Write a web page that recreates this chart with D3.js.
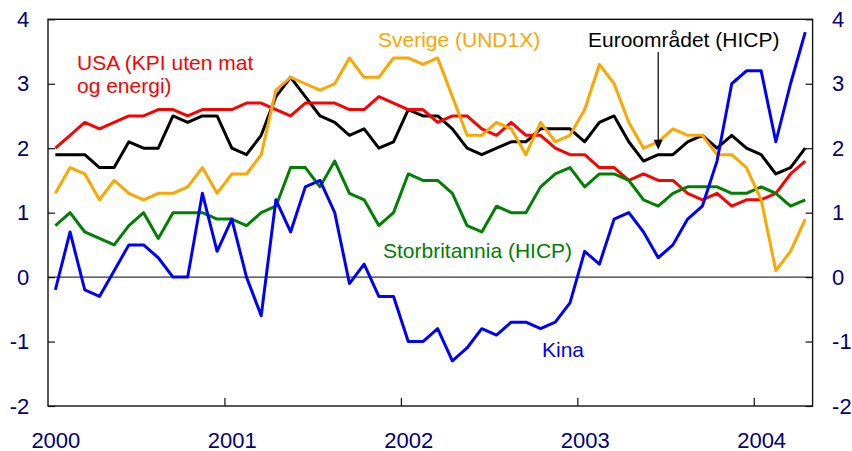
<!DOCTYPE html>
<html>
<head>
<meta charset="utf-8">
<script src="https://cdn.jsdelivr.net/npm/d3@7"></script>
<style>
  body { margin: 0; background: #fff; }
  svg text { font-family: "Liberation Sans", Arial, sans-serif; }
</style>
</head>
<body>
<div id="chart"></div>
<script>
// monthly, Jan 2000 - Apr 2004 (12-month change, %)
var months = d3.timeMonth.range(new Date(2000, 0, 1), new Date(2004, 4, 1))
var yearLabels = ["2000", "2001", "2002", "2003", "2004"]
var yTicks = [-2, -1, 0, 1, 2, 3, 4]

var usa = [2.0, 2.2, 2.4, 2.3, 2.4, 2.5, 2.5, 2.6, 2.6, 2.5, 2.6, 2.6,
  2.6, 2.7, 2.7, 2.6, 2.5, 2.7, 2.7, 2.7, 2.6, 2.6, 2.8, 2.7,
  2.6, 2.6, 2.4, 2.5, 2.5, 2.3, 2.2, 2.4, 2.2, 2.2, 2.0, 1.9,
  1.9, 1.7, 1.7, 1.5, 1.6, 1.5, 1.5, 1.3, 1.2, 1.3, 1.1, 1.2,
  1.2, 1.3, 1.6, 1.8]
var euro = [1.9, 1.9, 1.9, 1.7, 1.7, 2.1, 2.0, 2.0, 2.5, 2.4, 2.5, 2.5,
  2.0, 1.9, 2.2, 2.8, 3.1, 2.8, 2.5, 2.4, 2.2, 2.3, 2.0, 2.1,
  2.6, 2.5, 2.5, 2.3, 2.0, 1.9, 2.0, 2.1, 2.1, 2.3, 2.3, 2.3,
  2.1, 2.4, 2.5, 2.1, 1.8, 1.9, 1.9, 2.1, 2.2, 2.0, 2.2, 2.0,
  1.9, 1.6, 1.7, 2.0]
var sverige = [1.3, 1.7, 1.6, 1.2, 1.5, 1.3, 1.2, 1.3, 1.3, 1.4, 1.7, 1.3,
  1.6, 1.6, 1.9, 2.9, 3.1, 3.0, 2.9, 3.0, 3.4, 3.1, 3.1, 3.4,
  3.4, 3.3, 3.4, 2.8, 2.2, 2.2, 2.4, 2.3, 1.9, 2.4, 2.1, 2.2,
  2.6, 3.3, 3.0, 2.4, 2.0, 2.1, 2.3, 2.2, 2.2, 1.9, 1.9, 1.7,
  1.2, 0.1, 0.4, 0.9]
var uk = [0.8, 1.0, 0.7, 0.6, 0.5, 0.8, 1.0, 0.6, 1.0, 1.0, 1.0, 0.9,
  0.9, 0.8, 1.0, 1.1, 1.7, 1.7, 1.4, 1.8, 1.3, 1.2, 0.8, 1.0,
  1.6, 1.5, 1.5, 1.3, 0.8, 0.7, 1.1, 1.0, 1.0, 1.4, 1.6, 1.7,
  1.4, 1.6, 1.6, 1.5, 1.2, 1.1, 1.3, 1.4, 1.4, 1.4, 1.3, 1.3,
  1.4, 1.3, 1.1, 1.2]
var kina = [-0.2, 0.7, -0.2, -0.3, 0.1, 0.5, 0.5, 0.3, 0.0, 0.0, 1.3, 0.4,
  0.9, 0.0, -0.6, 1.2, 0.7, 1.4, 1.5, 1.0, -0.1, 0.2, -0.3, -0.3,
  -1.0, -1.0, -0.8, -1.3, -1.1, -0.8, -0.9, -0.7, -0.7, -0.8, -0.7, -0.4,
  0.4, 0.2, 0.9, 1.0, 0.7, 0.3, 0.5, 0.9, 1.1, 1.8, 3.0, 3.2,
  3.2, 2.1, 3.0, 3.8]

var series = [
  {name: 'euro', values: euro, color: '#000000'},
  {name: 'usa', values: usa, color: '#ff0000'},
  {name: 'uk', values: uk, color: '#008000'},
  {name: 'sverige', values: sverige, color: '#ffa500'},
  {name: 'kina', values: kina, color: '#0000ff'}
]

var W = 852, H = 451
var m = {left: 48, right: 812.6, top: 19.3, bottom: 406}
var navy = '#000080'

var svg = d3.select('#chart').append('svg')
  .attr('width', W).attr('height', H)

// one slot per month, points in the middle of the slot
var x = d3.scaleLinear().domain([-0.5, months.length - 0.5]).range([m.left, m.right])
var y = d3.scaleLinear().domain([-2, 4]).range([m.bottom, m.top])

// zero line
svg.append('line')
  .attr('x1', m.left).attr('x2', m.right)
  .attr('y1', y(0)).attr('y2', y(0))
  .attr('stroke', '#000').attr('stroke-width', 1)

var line = d3.line()
  .x(function(d, i){ return x(i) })
  .y(function(d){ return y(d) })

svg.selectAll('path.series').data(series).enter()
  .append('path')
  .attr('class', 'series')
  .attr('d', function(d){ return line(d.values) })
  .attr('fill', 'none')
  .attr('stroke', function(d){ return d.color })
  .attr('stroke-width', 3)
  .attr('stroke-linejoin', 'round')

// frame
svg.append('rect')
  .attr('x', m.left).attr('y', m.top)
  .attr('width', m.right - m.left).attr('height', m.bottom - m.top)
  .attr('fill', 'none').attr('stroke', '#111').attr('stroke-width', 1.4)

// axes
var fmt = function(d){ return String(d) }  // plain hyphen for negatives

function styleAxis(g){
  g.select('.domain').remove()
  g.selectAll('line').attr('stroke', '#111').attr('stroke-width', 1.2)
  g.selectAll('text').attr('fill', navy).style('font-size', '22px')
    .style('font-family', '"Liberation Sans", Arial, sans-serif')
}

svg.append('g').attr('transform', 'translate(' + m.left + ',0)')
  .call(d3.axisLeft(y).tickValues(yTicks).tickSizeInner(-7).tickSizeOuter(0)
    .tickPadding(18.7).tickFormat(fmt))
  .call(styleAxis)

svg.append('g').attr('transform', 'translate(' + m.right + ',0)')
  .call(d3.axisRight(y).tickValues(yTicks).tickSizeInner(-7).tickSizeOuter(0)
    .tickPadding(19.5).tickFormat(fmt))
  .call(styleAxis)

// year boundaries (between Dec and Jan)
var janIdx = months.map(function(d, i){ return i }).filter(function(i){ return months[i].getMonth() == 0 })

svg.append('g').attr('transform', 'translate(0,' + m.bottom + ')')
  .call(d3.axisBottom(x).tickValues(janIdx.slice(1).map(function(i){ return i - 0.5 }))
    .tickSizeInner(-8).tickSizeOuter(0).tickFormat(''))
  .call(styleAxis)

svg.append('g').attr('transform', 'translate(0,' + m.bottom + ')')
  .call(d3.axisBottom(x).tickValues(janIdx).tickSize(0).tickPadding(26.7)
    .tickFormat(function(d, i){ return yearLabels[i] }))
  .call(styleAxis)

// labels
function label(txt, lx, ly, color){
  svg.append('text').attr('x', lx).attr('y', ly)
    .attr('fill', color).style('font-size', '21px').text(txt)
}
label('USA (KPI uten mat', 77, 70, '#ff0000')
label('og energi)', 77, 93, '#ff0000')
label('Sverige (UND1X)', 378, 47, '#ffa500')
label('Euroområdet (HICP)', 588, 47, '#000000')
label('Storbritannia (HICP)', 383, 258, '#008000')
label('Kina', 542, 357, '#0000ff')

// arrow from the euro label down to the line
var ai = 41
var ax = x(ai), tipY = y(euro[ai]) - 5
svg.append('line')
  .attr('x1', ax).attr('x2', ax).attr('y1', 52).attr('y2', tipY - 8)
  .attr('stroke', '#000').attr('stroke-width', 1.2)
svg.append('path')
  .attr('d', 'M' + (ax - 4.5) + ',' + (tipY - 10) + 'L' + (ax + 4.5) + ',' + (tipY - 10) + 'L' + ax + ',' + tipY + 'Z')
  .attr('fill', '#000')
</script>
</body>
</html>
